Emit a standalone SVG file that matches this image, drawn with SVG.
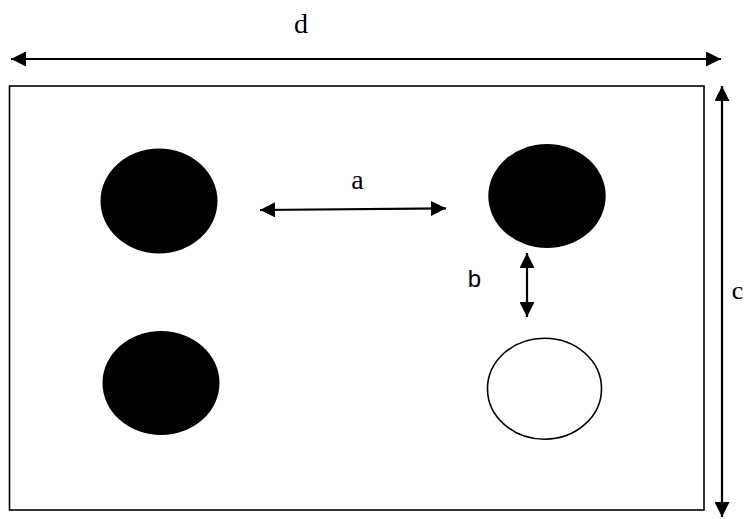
<svg xmlns="http://www.w3.org/2000/svg" width="747" height="519" viewBox="0 0 747 519">
  <defs>
    <marker id="ah" markerUnits="userSpaceOnUse" markerWidth="15" markerHeight="15" refX="15" refY="7.5" orient="auto-start-reverse">
      <path d="M0,0 L15,7.5 L0,15 Z" fill="#000"/>
    </marker>
    <style>
      .dim { stroke: #000; stroke-width: 2.2; fill: none; marker-start: url(#ah); marker-end: url(#ah); }
      .hole { fill: #000; stroke: none; }
      .open { fill: #fff; stroke: #000; stroke-width: 1.6; }
    </style>
  </defs>
  <rect width="747" height="519" fill="#fff"/>
  <g id="plate">
    <rect x="9.5" y="86" width="694.5" height="424" fill="none" stroke="#000" stroke-width="1.6"/>
  </g>
  <g id="hole-top-left"><ellipse class="hole" cx="159" cy="201" rx="58.5" ry="52.5"/></g>
  <g id="hole-bottom-left"><ellipse class="hole" cx="161" cy="383" rx="58.5" ry="52"/></g>
  <g id="hole-top-right"><ellipse class="hole" cx="547" cy="196" rx="58.7" ry="52"/></g>
  <g id="hole-bottom-right"><ellipse class="open" cx="544.5" cy="388.7" rx="57" ry="50.5"/></g>
  <g id="connectors">
    <line class="dim" x1="11" y1="59" x2="721" y2="59"/>
    <line class="dim" x1="722" y1="86" x2="722" y2="517"/>
    <line class="dim" x1="260" y1="210" x2="446" y2="208.3"/>
    <line class="dim" x1="527" y1="253" x2="527" y2="317"/>
  </g>
  <g id="labels" fill="#000" text-anchor="middle">
    <text font-family="'Liberation Serif', 'Times New Roman', serif" x="301" y="32.5" font-size="28">d</text>
    <text font-family="'Liberation Serif', 'Times New Roman', serif" x="357.5" y="189" font-size="28">a</text>
    <text font-family="'Liberation Serif', 'Times New Roman', serif" x="737.5" y="299" font-size="26">c</text>
    <text font-family="'Liberation Sans', Arial, sans-serif" x="474.5" y="287" font-size="24">b</text>
  </g>
</svg>
